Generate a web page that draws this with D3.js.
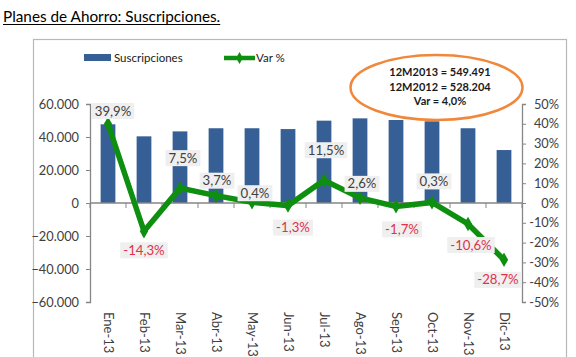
<!DOCTYPE html>
<html><head><meta charset="utf-8">
<script src="https://cdn.jsdelivr.net/npm/d3@7"></script>
<style>body{margin:0;background:#fff}svg{display:block}</style>
</head><body>
<script>
const categories = ["Ene-13","Feb-13","Mar-13","Abr-13","May-13","Jun-13","Jul-13","Ago-13","Sep-13","Oct-13","Nov-13","Dic-13"];
const suscripciones = [47700,40400,43400,45300,45300,44800,49900,51300,50300,49500,45300,32100];
const varPct = [39.9,-14.3,7.5,3.7,0.4,-1.3,11.5,2.6,-1.7,0.3,-10.6,-28.7];
const varLabels = ["39,9%","-14,3%","7,5%","3,7%","0,4%","-1,3%","11,5%","2,6%","-1,7%","0,3%","-10,6%","-28,7%"];
const leftTicks = [60000,40000,20000,0,-20000,-40000,-60000];
const rightTicks = [50,40,30,20,10,0,-10,-20,-30,-40,-50];
const summary = ["12M2013 = 549.491","12M2012 = 528.204","Var = 4,0%"];
const title = "Planes de Ahorro: Suscripciones.";
// label offsets (dx, dy from point) — layout only
const labelOffsets = [[5,-13],[0,19],[3,-30],[1,-15],[3,-9],[5,22],[2,-30],[2,-14],[6,23],[2,-21],[3,21],[-6,20]];

const W=576,H=357;
const svg=d3.select("body").append("svg").attr("width",W).attr("height",H);
const font="Lato, 'Noto Sans', sans-serif";

// title
const t=svg.append("text").attr("x",3).attr("y",22).attr("font-family",font).attr("font-size",15.3)
  .attr("fill","#000").text(title);
const tw=t.node().getComputedTextLength();
svg.append("line").attr("x1",3).attr("x2",3+tw).attr("y1",24.5).attr("y2",24.5).attr("stroke","#000").attr("stroke-width",1);

// chart frame
svg.append("rect").attr("x",33.5).attr("y",39.5).attr("width",533).attr("height",330)
  .attr("fill","#fff").attr("stroke","#b8b8b8").attr("stroke-width",1.2);

const x0=90,x1=522;
const x=d3.scaleBand().domain(categories).range([x0,x1]).paddingInner(0.59).paddingOuter(0.295);
const xc=d3.scalePoint().domain(categories).range([x0,x1]).padding(0.5);
const yL=d3.scaleLinear().domain([-60000,60000]).range([302,104]);
const yR=d3.scaleLinear().domain([-50,50]).range([302,104]);

const barColor="#365f96", lineColor="#0f8f10";

// bars
svg.append("g").selectAll("rect").data(suscripciones).join("rect")
  .attr("x",(d,i)=>x(categories[i])).attr("width",x.bandwidth())
  .attr("y",d=>yL(Math.max(0,d))).attr("height",d=>Math.abs(yL(d)-yL(0)))
  .attr("fill",barColor);

// left axis
const gl=svg.append("g").attr("transform",`translate(${x0},0)`)
  .call(d3.axisLeft(yL).tickValues(leftTicks).tickSize(4).tickPadding(7)
    .tickFormat(d=>d3.format(",")(d).replace(/,/g,".")));
// right axis
const gr=svg.append("g").attr("transform",`translate(${x1},0)`)
  .call(d3.axisRight(yR).tickValues(rightTicks).tickSize(4).tickPadding(4).tickFormat(d=>d+"%"));
[gl,gr].forEach(g=>{
  g.select(".domain").attr("stroke","#868686").attr("stroke-width",1.3);
  g.selectAll(".tick line").attr("stroke","#868686");
  g.selectAll("text").attr("font-family",font).attr("font-size",12.8).attr("fill","#404040");
});
gr.selectAll("text").attr("text-anchor","end").attr("x",37);

// x axis at zero
const gx=svg.append("g").attr("transform",`translate(0,${yL(0)})`);
gx.append("line").attr("x1",x0).attr("x2",x1).attr("stroke","#868686").attr("stroke-width",1.3);
const step=(x1-x0)/categories.length;
gx.selectAll(".tk").data(d3.range(categories.length+1)).join("line")
  .attr("x1",i=>x0+i*step).attr("x2",i=>x0+i*step).attr("y1",0).attr("y2",5).attr("stroke","#868686");
svg.append("g").selectAll("text").data(categories).join("text")
  .attr("transform",d=>`translate(${xc(d)-4.5},312) rotate(90)`)
  .attr("font-family",font).attr("font-size",13).attr("fill","#404040").text(d=>d);

// line
const line=d3.line().x((d,i)=>xc(categories[i])).y(d=>yR(d));
svg.append("path").datum(varPct).attr("d",line).attr("fill","none")
  .attr("stroke",lineColor).attr("stroke-width",5.5).attr("stroke-linejoin","miter");
svg.append("g").selectAll("path").data(varPct).join("path")
  .attr("transform",(d,i)=>`translate(${xc(categories[i])},${yR(d)})`)
  .attr("d",d3.symbol(d3.symbolDiamond,60)).attr("fill",lineColor);

// labels
const lg=svg.append("g");
varPct.forEach((v,i)=>{
  const cx=xc(categories[i])+labelOffsets[i][0], cy=yR(v)+labelOffsets[i][1];
  const g=lg.append("g");
  const tx=g.append("text").attr("x",cx).attr("y",cy+4.6).attr("text-anchor","middle")
    .attr("font-family",font).attr("font-size",13.2).attr("fill",v<0?"#e0304a":"#404040").text(varLabels[i]);
  const w=tx.node().getComputedTextLength();
  g.insert("rect","text").attr("x",cx-w/2-3).attr("y",cy-8).attr("width",w+6).attr("height",16).attr("fill","#efefef");
});

// legend
svg.append("rect").attr("x",84).attr("y",54).attr("width",27).attr("height",7).attr("fill",barColor);
svg.append("text").attr("x",114).attr("y",61.5).attr("font-family",font).attr("font-size",11.5).attr("fill","#202020").text("Suscripciones");
svg.append("line").attr("x1",224).attr("x2",255).attr("y1",58).attr("y2",58).attr("stroke",lineColor).attr("stroke-width",4.5);
svg.append("path").attr("transform","translate(239.5,58)").attr("d",d3.symbol(d3.symbolDiamond,40)).attr("fill",lineColor);
svg.append("text").attr("x",256).attr("y",61.5).attr("font-family",font).attr("font-size",11.5).attr("fill","#202020").text("Var %");

// ellipse note
svg.append("ellipse").attr("cx",436.5).attr("cy",87.5).attr("rx",86).attr("ry",32.5)
  .attr("fill","none").attr("stroke","#f0883c").attr("stroke-width",2.5);
svg.append("g").selectAll("text").data(summary).join("text")
  .attr("x",440).attr("y",(d,i)=>76+i*14.5).attr("text-anchor","middle")
  .attr("font-family",font).attr("font-size",11).attr("font-weight","bold").attr("fill","#1a1a1a").text(d=>d);
</script>
</body></html>
